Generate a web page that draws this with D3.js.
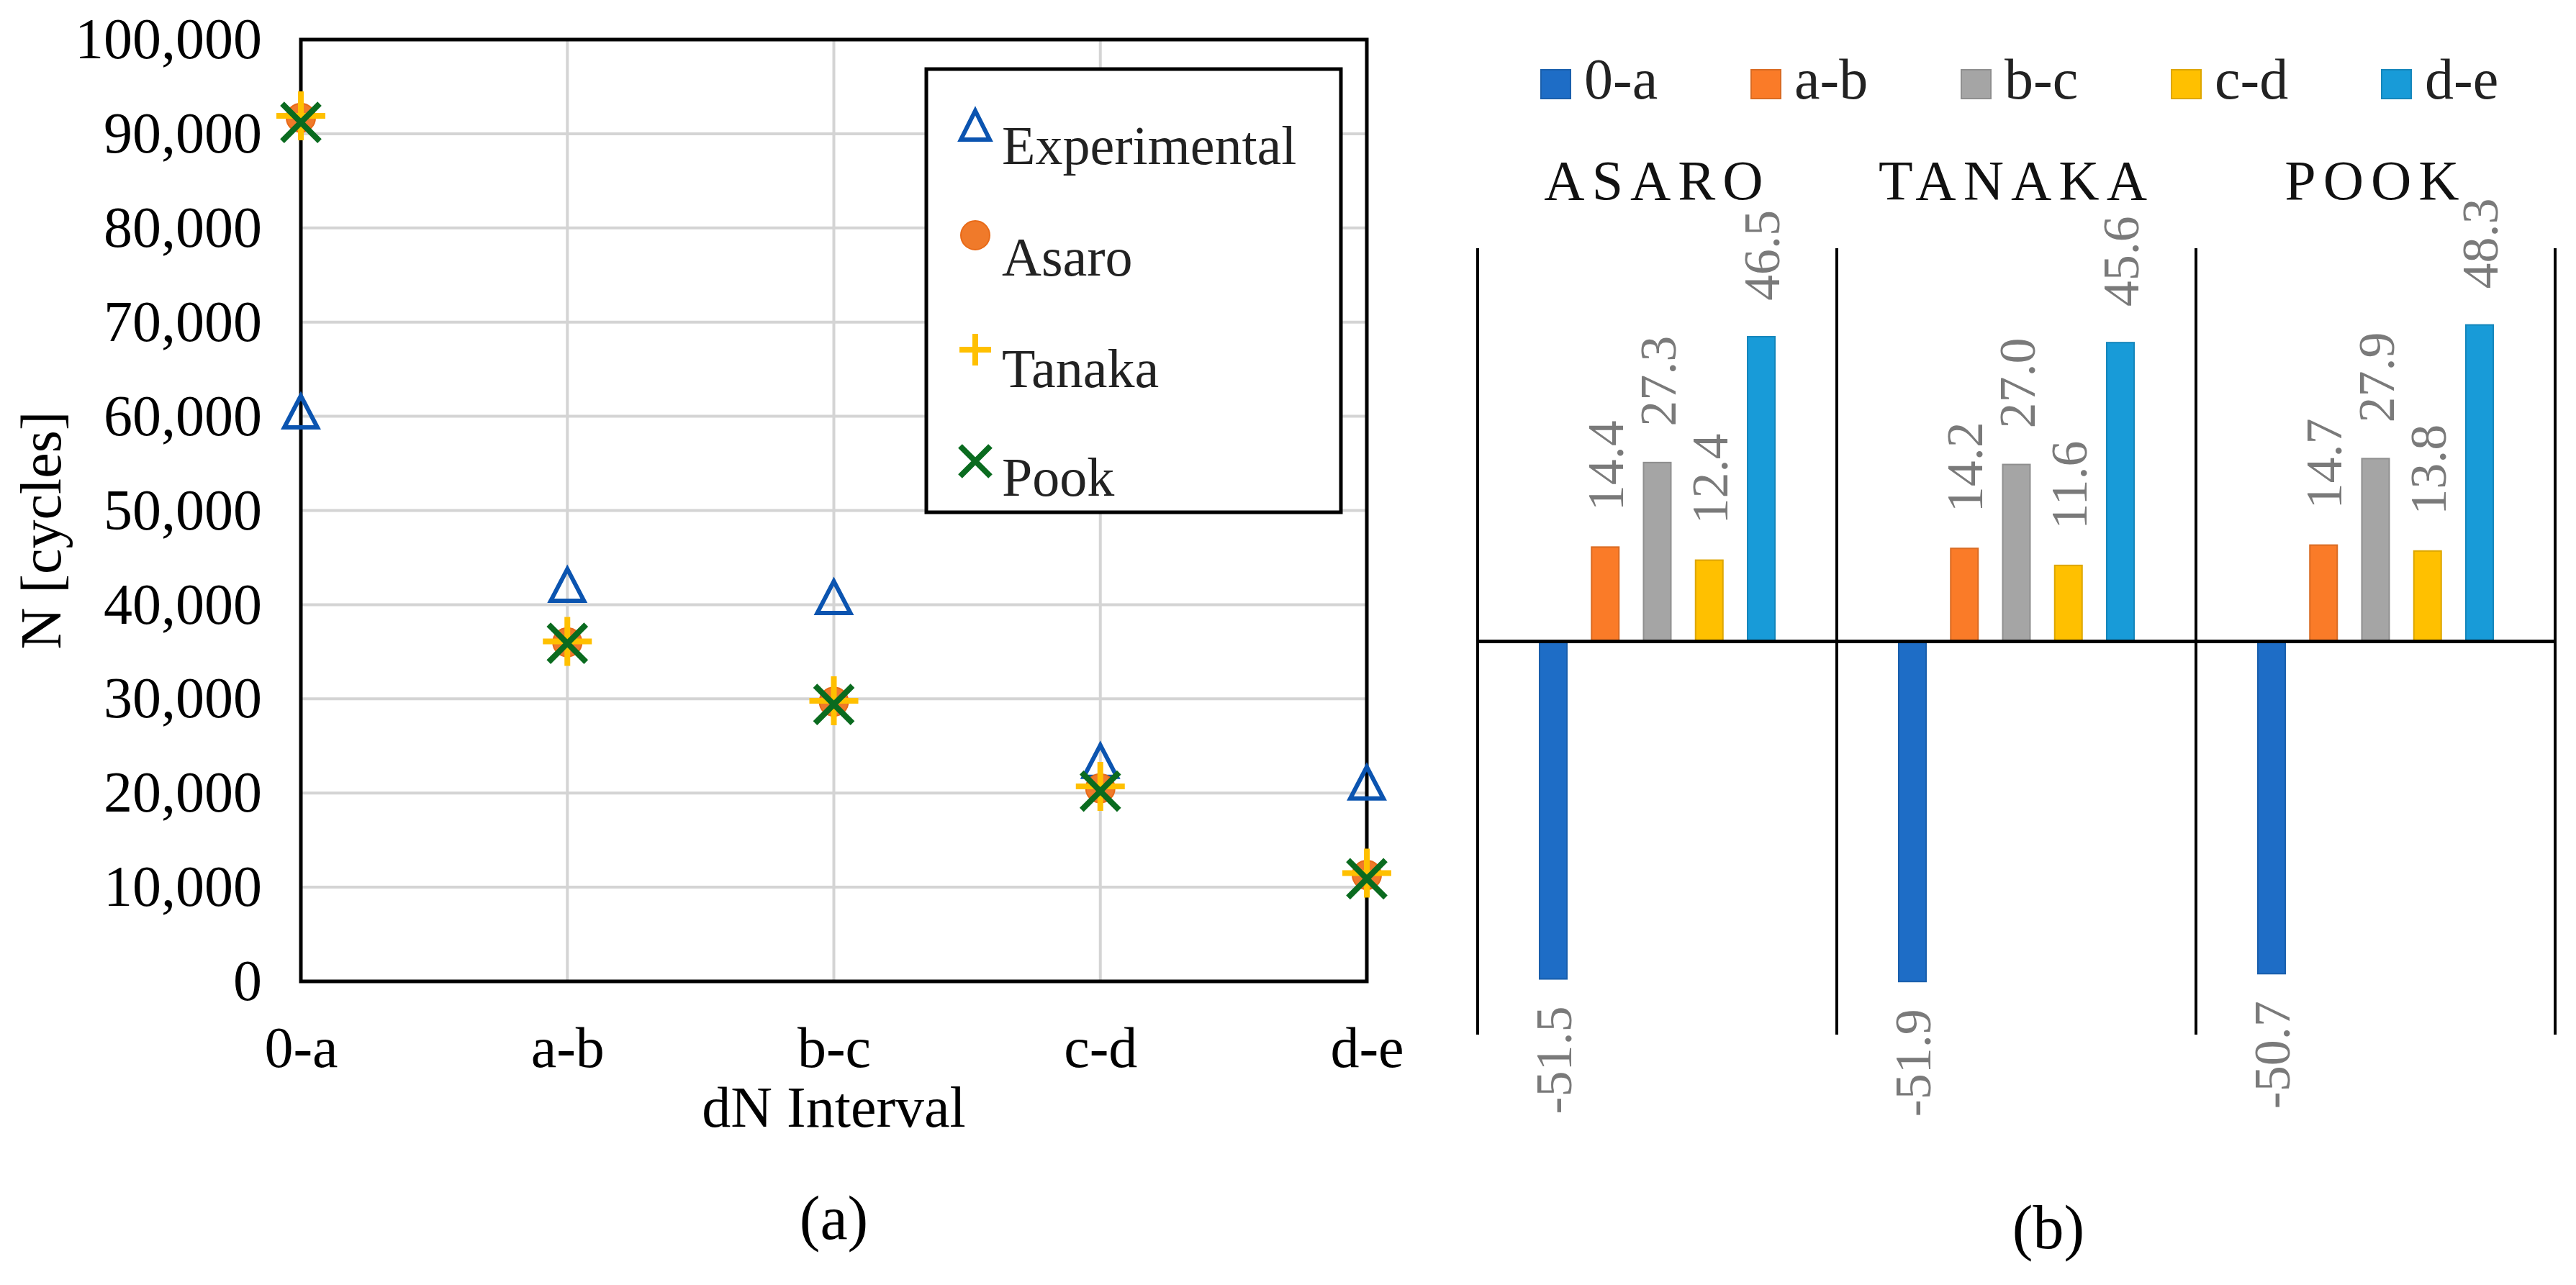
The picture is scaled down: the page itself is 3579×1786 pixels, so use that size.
<!DOCTYPE html>
<html>
<head>
<meta charset="utf-8">
<script src="https://cdn.jsdelivr.net/npm/d3@7"></script>
<style>
  html, body { margin: 0; padding: 0; background: #fff; }
  svg { display: block; }
  text { font-family: "Liberation Serif", "Times New Roman", serif; }
</style>
</head>
<body>
<svg id="chart" width="3579" height="1786"></svg>
<script>
// ---------------- DATA ----------------
const categories = ["0-a", "a-b", "b-c", "c-d", "d-e"];
const experimental = [60500, 42100, 40800, 23400, 21100];
const asaro  = [91700, 36000, 29700, 20500, 11300];
const tanaka = [91900, 36100, 29800, 20700, 11500];
const pook   = [91200, 35900, 29400, 20200, 10900];
const yTicks = [0, 10000, 20000, 30000, 40000, 50000, 60000, 70000, 80000, 90000, 100000];
const seriesNames = ["Experimental", "Asaro", "Tanaka", "Pook"];

const methods = ["ASARO", "TANAKA", "POOK"];
const asaroErr  = [-51.5, 14.4, 27.3, 12.4, 46.5];
const tanakaErr = [-51.9, 14.2, 27.0, 11.6, 45.6];
const pookErr   = [-50.7, 14.7, 27.9, 13.8, 48.3];
const errDomain = [-60, 60];

// ---------------- STYLE ----------------
const FONT = 80;
const colExp = "#0B54B0", colAsaro = "#F07A2A", colTanaka = "#FFC000", colPook = "#0A6B1F";
const barColors = ["#1E6DC6", "#FA7B28", "#A5A5A5", "#FFC000", "#189BD8"];
const fmt1 = d3.formatLocale({ decimal: ".", thousands: ",", grouping: [3], currency: ["", ""], minus: "-" }).format(".1f");

const svg = d3.select("#chart");
svg.append("rect").attr("width", 3579).attr("height", 1786).attr("fill", "#fff");

// ================= (a) scatter =================
const L = 418, R = 1899, T = 55, B = 1364;
const x = d3.scalePoint().domain(categories).range([L, R]);
const y = d3.scaleLinear().domain([0, 100000]).range([B, T]);

const ga = svg.append("g");

// gridlines
ga.append("g").selectAll("line").data(yTicks.slice(1, -1)).join("line")
  .attr("x1", L).attr("x2", R).attr("y1", d => y(d)).attr("y2", d => y(d))
  .attr("stroke", "#D4D4D4").attr("stroke-width", 4);
ga.append("g").selectAll("line").data(categories.slice(1, -1)).join("line")
  .attr("x1", d => x(d)).attr("x2", d => x(d)).attr("y1", T).attr("y2", B)
  .attr("stroke", "#D4D4D4").attr("stroke-width", 4);

// border
ga.append("rect").attr("x", L).attr("y", T).attr("width", R - L).attr("height", B - T)
  .attr("fill", "none").attr("stroke", "#000").attr("stroke-width", 5);

// y axis
const yAxis = ga.append("g").attr("transform", `translate(${L},0)`)
  .call(d3.axisLeft(y).tickValues(yTicks).tickSize(0).tickPadding(54).tickFormat(d3.format(",")));
yAxis.select(".domain").remove();
yAxis.selectAll("text").attr("font-size", FONT).attr("font-family", "Liberation Serif").attr("fill", "#000");

// x axis
const xAxis = ga.append("g").attr("transform", `translate(0,${B})`)
  .call(d3.axisBottom(x).tickSize(0).tickPadding(62));
xAxis.select(".domain").remove();
xAxis.selectAll("text").attr("font-size", FONT).attr("font-family", "Liberation Serif").attr("fill", "#000");

// axis titles
ga.append("text").attr("transform", `translate(84,737) rotate(-90)`)
  .attr("text-anchor", "middle").attr("font-size", FONT).text("N [cycles]");
ga.append("text").attr("x", (L + R) / 2).attr("y", 1566)
  .attr("text-anchor", "middle").attr("font-size", FONT).text("dN Interval");
ga.append("text").attr("x", (L + R) / 2).attr("y", 1722)
  .attr("text-anchor", "middle").attr("font-size", 86).text("(a)");

// marker drawers
function tri(g, w, h) {
  g.append("path").attr("d", `M0,${-h/2}L${w/2},${h/2}L${-w/2},${h/2}Z`)
    .attr("fill", "none").attr("stroke", colExp).attr("stroke-width", 6).attr("stroke-linejoin", "miter");
}
function circ(g, r) {
  g.append("circle").attr("r", r).attr("fill", colAsaro).attr("stroke", "#E86A18").attr("stroke-width", 2);
}
function plus(g, s) {
  g.append("path").attr("d", `M${-s},0H${s}M0,${-s}V${s}`)
    .attr("stroke", colTanaka).attr("stroke-width", 8).attr("fill", "none");
}
function cross(g, s) {
  g.append("path").attr("d", `M${-s},${-s}L${s},${s}M${-s},${s}L${s},${-s}`)
    .attr("stroke", colPook).attr("stroke-width", 8).attr("fill", "none");
}

const ptsExp = categories.map((c, i) => ({ c, v: experimental[i] }));
const ptsAs = categories.map((c, i) => ({ c, v: asaro[i] }));
const ptsTa = categories.map((c, i) => ({ c, v: tanaka[i] }));
const ptsPo = categories.map((c, i) => ({ c, v: pook[i] }));

ga.append("g").selectAll("g").data(ptsExp).join("g")
  .attr("transform", d => `translate(${x(d.c)},${y(d.v)})`).each(function () { tri(d3.select(this), 46, 44); });
ga.append("g").selectAll("g").data(ptsAs).join("g")
  .attr("transform", d => `translate(${x(d.c)},${y(d.v)})`).each(function () { circ(d3.select(this), 20); });
ga.append("g").selectAll("g").data(ptsTa).join("g")
  .attr("transform", d => `translate(${x(d.c)},${y(d.v)})`).each(function () { plus(d3.select(this), 34); });
ga.append("g").selectAll("g").data(ptsPo).join("g")
  .attr("transform", d => `translate(${x(d.c)},${y(d.v)})`).each(function () { cross(d3.select(this), 26); });

// legend
const lg = ga.append("g");
lg.append("rect").attr("x", 1287).attr("y", 96).attr("width", 576).attr("height", 616)
  .attr("fill", "#fff").attr("stroke", "#000").attr("stroke-width", 5);
const legMarkY = [174, 327, 486, 641];
const legTextY = [228, 383, 538, 689];
const drawers = [g => tri(g, 40, 40), g => circ(g, 20), g => plus(g, 22), g => cross(g, 21)];
seriesNames.forEach((n, i) => {
  const g = lg.append("g").attr("transform", `translate(1355,${legMarkY[i]})`);
  drawers[i](g);
  lg.append("text").attr("x", 1392).attr("y", legTextY[i]).attr("font-size", 76).attr("fill", "#222").text(n);
});

// ================= (b) bar panels =================
const PL = 2053, PR = 3550, PT = 345, PB = 1438;
const x0 = d3.scaleBand().domain(methods).range([PL, PR]).padding(0);
const x1 = d3.scaleBand().domain(categories).range([0, x0.bandwidth()]).paddingInner(0.474).paddingOuter(1.19);
const yb = d3.scaleLinear().domain(errDomain).range([PB, PT]);
const errData = { ASARO: asaroErr, TANAKA: tanakaErr, POOK: pookErr };

const gb = svg.append("g");

// legend (b)
categories.forEach((c, i) => {
  const lx = 2141 + i * 292;
  gb.append("rect").attr("x", lx).attr("y", 97).attr("width", 41).attr("height", 40)
    .attr("fill", barColors[i]).attr("stroke", d3.color(barColors[i]).darker(0.4)).attr("stroke-width", 2);
  gb.append("text").attr("x", lx + 60).attr("y", 137).attr("font-size", 80).attr("fill", "#222").text(c);
});

// panel titles
gb.selectAll(".ptitle").data(methods).join("text").attr("class", "ptitle")
  .attr("x", d => x0(d) + x0.bandwidth() / 2).attr("y", 277)
  .attr("text-anchor", "middle").attr("font-size", 78).attr("letter-spacing", 10)
  .attr("fill", "#111").text(d => d);

// bars
methods.forEach(m => {
  const g = gb.append("g").attr("transform", `translate(${x0(m)},0)`);
  const rows = categories.map((c, i) => ({ c, v: errData[m][i], col: barColors[i] }));
  g.selectAll("rect").data(rows).join("rect")
    .attr("x", d => x1(d.c)).attr("width", x1.bandwidth())
    .attr("y", d => yb(Math.max(0, d.v))).attr("height", d => Math.abs(yb(d.v) - yb(0)))
    .attr("fill", d => d.col).attr("stroke", d => d3.color(d.col).darker(0.4)).attr("stroke-width", 2);
  g.selectAll("text").data(rows).join("text")
    .attr("transform", d => {
      const cx = x1(d.c) + x1.bandwidth() / 2;
      const yy = d.v >= 0 ? yb(d.v) - 50 : yb(d.v) + 38;
      return `translate(${cx},${yy}) rotate(-90)`;
    })
    .attr("text-anchor", d => d.v >= 0 ? "start" : "end")
    .attr("dy", "0.35em").attr("font-size", 72).attr("fill", "#7A7A7A")
    .text(d => fmt1(d.v));
});

// panel separators and zero line
gb.selectAll(".sep").data([...methods.map(m => x0(m)), PR]).join("line").attr("class", "sep")
  .attr("x1", d => d).attr("x2", d => d).attr("y1", PT).attr("y2", PB)
  .attr("stroke", "#000").attr("stroke-width", 4);
gb.append("line").attr("x1", PL).attr("x2", PR).attr("y1", yb(0)).attr("y2", yb(0))
  .attr("stroke", "#000").attr("stroke-width", 5);

gb.append("text").attr("x", 2846).attr("y", 1735).attr("text-anchor", "middle")
  .attr("font-size", 86).text("(b)");
</script>
</body>
</html>
